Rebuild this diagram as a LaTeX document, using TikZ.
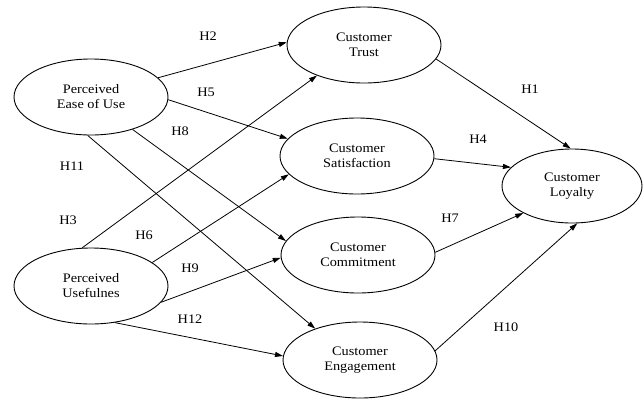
\documentclass[tikz,border=0pt]{standalone}
\usepackage{fontspec}
\setmainfont{Liberation Serif}[FakeStretch=1.1]
\usetikzlibrary{shapes.geometric,arrows.meta}
\begin{document}
\begin{tikzpicture}[x=1pt,y=-1pt,
  construct/.style={ellipse,draw,line width=0.9pt,minimum width=154pt,minimum height=76pt,inner sep=0pt,
    align=center,font=\fontsize{13pt}{15pt}\selectfont},
  hyp/.style={line width=0.8pt,-{Triangle[length=8pt,width=5pt]}},
  hlabel/.style={font=\fontsize{13pt}{15pt}\selectfont,inner sep=0pt}]
\useasboundingbox (0,0) rectangle (644,400);
\node[construct] (peu) at (91,97) {Perceived\\Ease of Use};
\node[construct] (pu) at (91,286) {Perceived\\Usefulnes};
\node[construct] (trust) at (364,45) {Customer\\Trust};
\node[construct] (sat) at (357,156) {Customer\\Satisfaction};
\node[construct] (com) at (358,255) {Customer\\Commitment};
\node[construct] (eng) at (360,360) {Customer\\Engagement};
\node[construct,minimum width=140pt,minimum height=74pt] (loy) at (572,186) {Customer\\Loyalty};
% arrows
\draw[hyp] (peu.16) -- (trust.178.5);
\draw[hyp] (peu.-2) -- (sat.166);
\draw[hyp] (peu.-38) -- (com.169.6);
\draw[hyp] (peu.-95) -- (eng.145.8);
\draw[hyp] (pu.103) -- (trust.-147.7);
\draw[hyp] (pu.21.5) -- (sat.-165);
\draw[hyp] (pu.-13) -- (com.-178.5);
\draw[hyp] (pu.-57) -- (eng.177);
\draw[hyp] (trust.-11.6) -- (loy.92.7);
\draw[hyp] (sat.-2) -- (loy.163);
\draw[hyp] (com.2) -- (loy.-151);
\draw[hyp] (eng.7.4) -- (loy.-82.7);
% labels
\node[hlabel] (l2) at (208,36) {H2};
\node[hlabel] (l5) at (206,92) {H5};
\node[hlabel] (l8) at (180,131) {H8};
\node[hlabel] (l11) at (72,166) {H11};
\node[hlabel] (l3) at (68,220) {H3};
\node[hlabel] (l6) at (144,235) {H6};
\node[hlabel] (l9) at (190,268) {H9};
\node[hlabel] (l12) at (190,319) {H12};
\node[hlabel] (l1) at (530,89) {H1};
\node[hlabel] (l4) at (478,139) {H4};
\node[hlabel] (l7) at (450,218) {H7};
\node[hlabel] (l10) at (506,327) {H10};
\end{tikzpicture}
\end{document}
